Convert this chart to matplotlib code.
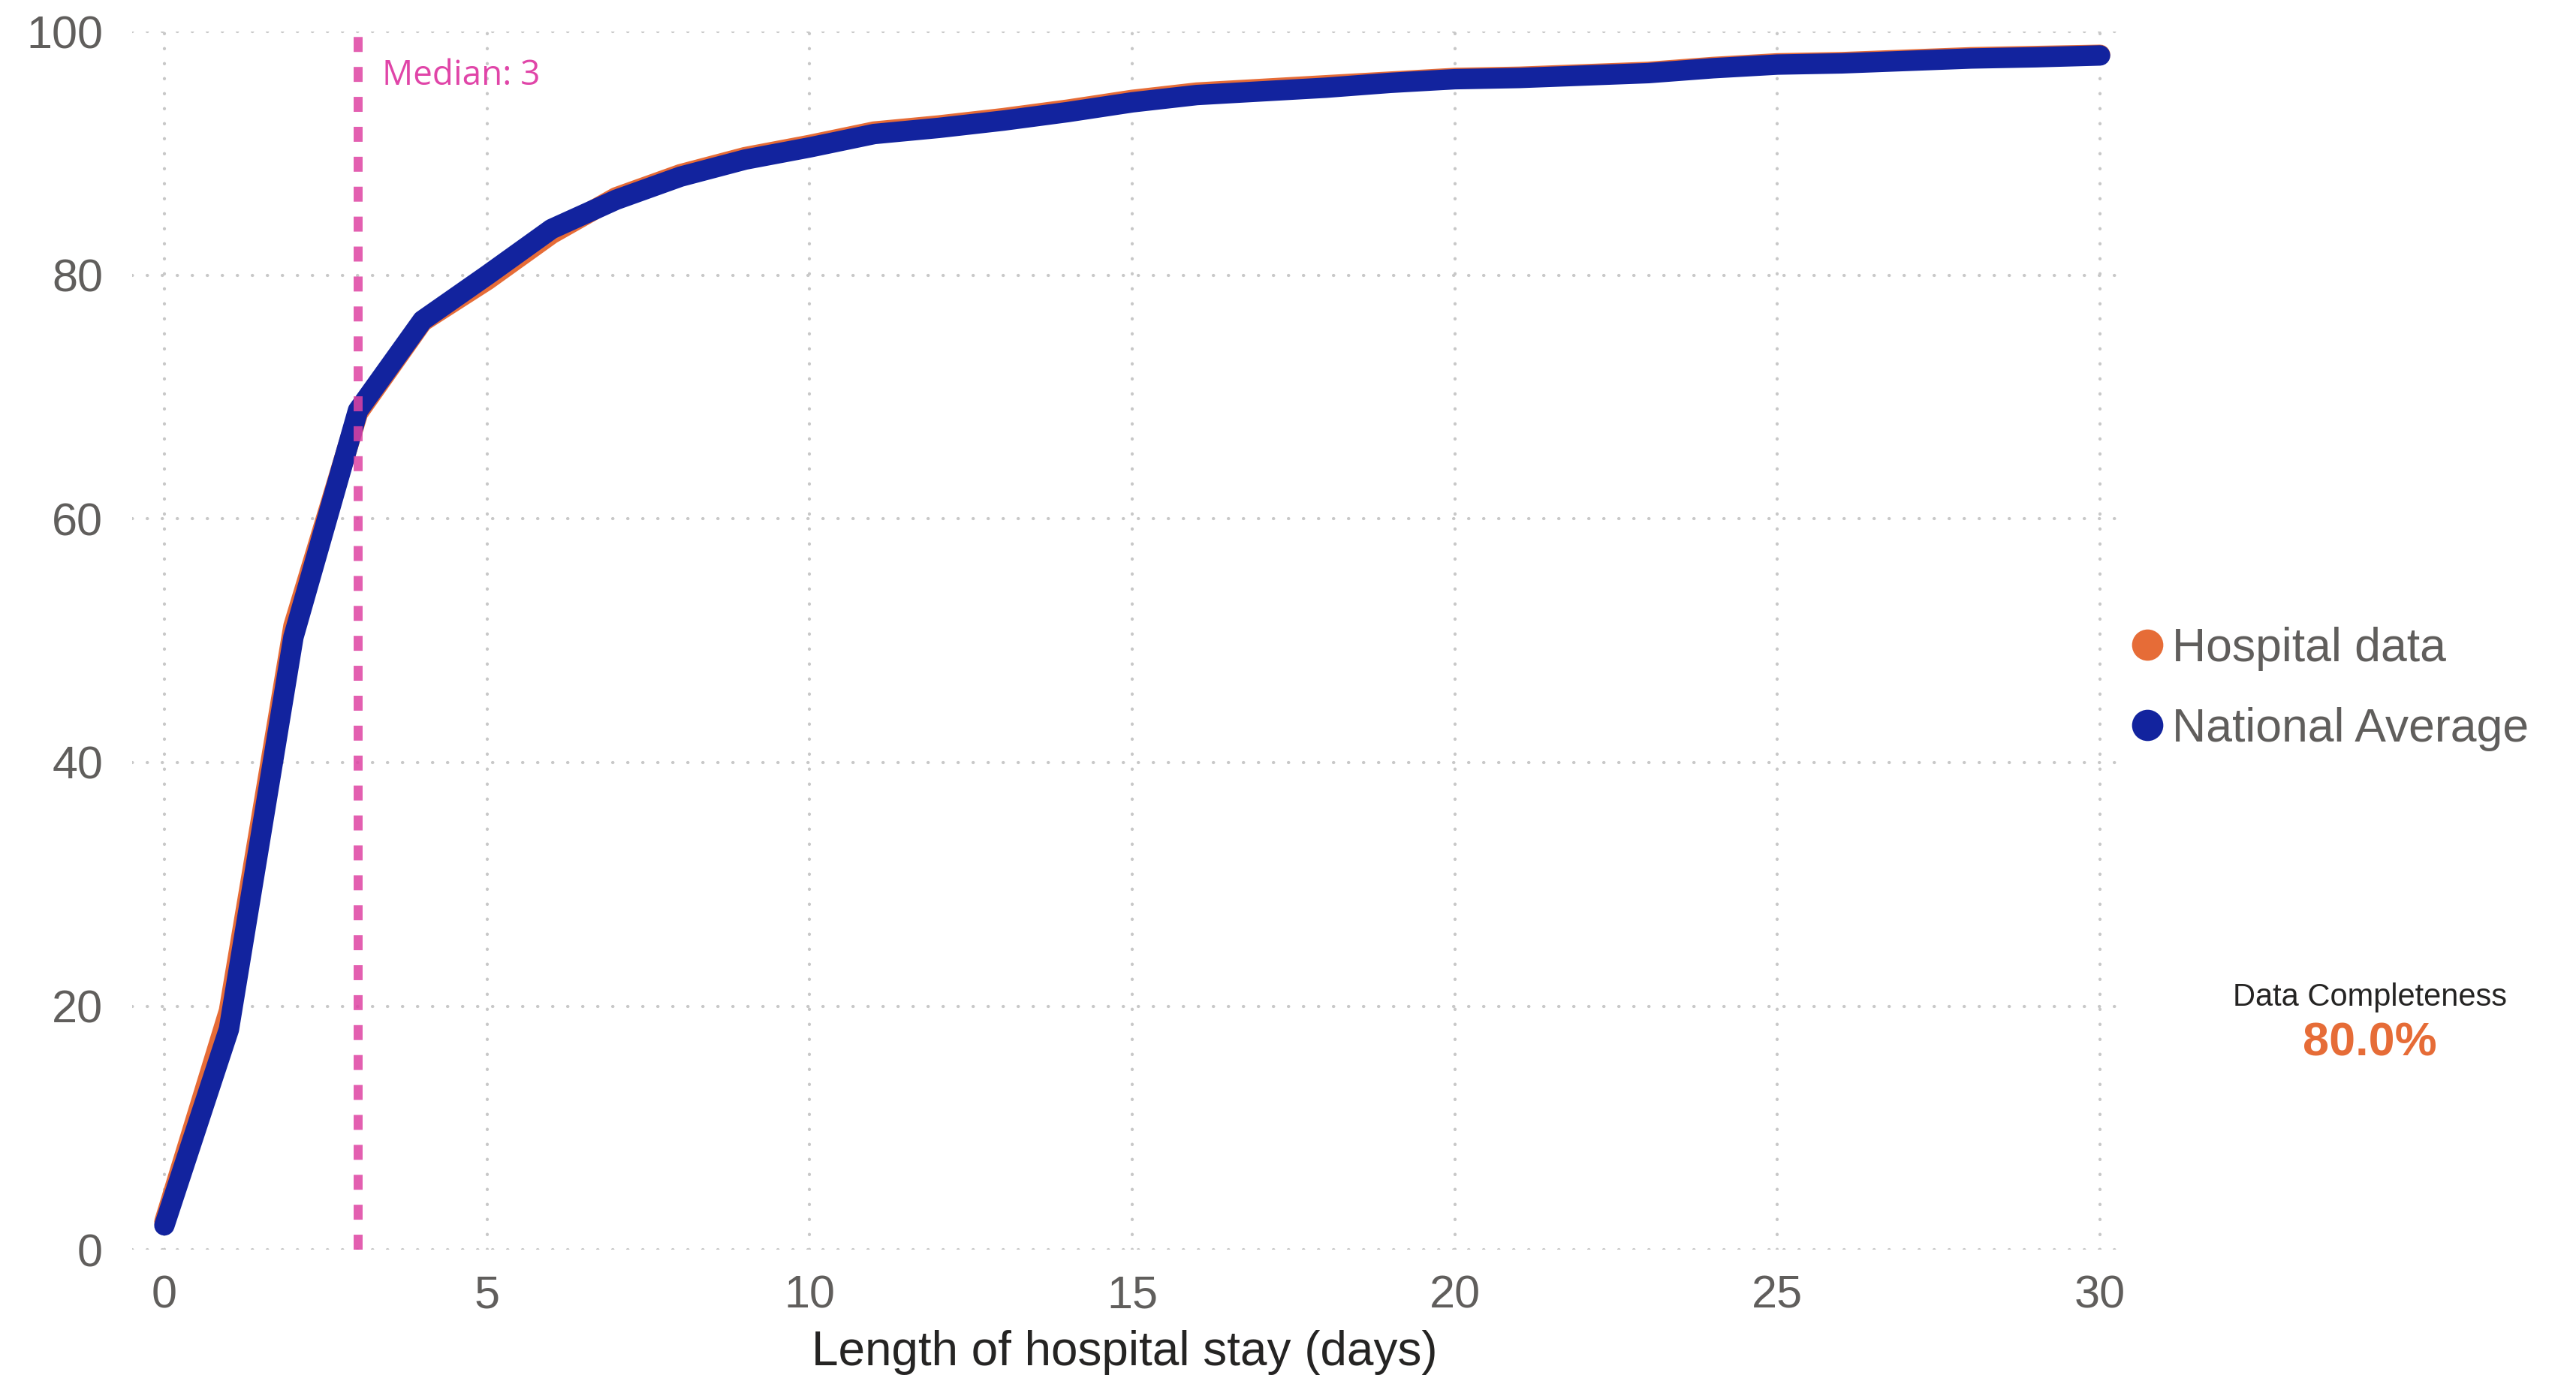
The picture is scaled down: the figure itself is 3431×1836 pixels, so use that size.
import matplotlib
matplotlib.use('Agg')
import matplotlib.pyplot as plt
from matplotlib.lines import Line2D

# ---- data ----
days = list(range(0, 31))
national_avg = [2.0, 18.1, 50.3, 68.9, 76.3, 80.0, 83.8, 86.2, 88.1, 89.5,
                90.5, 91.6, 92.1, 92.7, 93.4, 94.2, 94.8, 95.1, 95.4, 95.8,
                96.1, 96.2, 96.4, 96.6, 97.0, 97.3, 97.4, 97.6, 97.8, 97.9,
                98.05]
hospital = [2.3, 19.6, 51.2, 68.7, 76.2, 79.6, 83.4, 86.4, 88.3, 89.7,
            90.7, 91.8, 92.3, 92.9, 93.6, 94.4, 95.0, 95.3, 95.6, 95.9,
            96.2, 96.3, 96.5, 96.7, 97.1, 97.4, 97.5, 97.7, 97.9, 98.0,
            98.1]
median_days = 3
series_names = ['Hospital data', 'National Average']
completeness_label = 'Data Completeness'
completeness_value = '80.0%'
xticks = [0, 5, 10, 15, 20, 25, 30]
yticks = [0, 20, 40, 60, 80, 100]

ORANGE = '#E66C37'
NAVY = '#12239E'
PINK = '#DE43A3'
TICK_C = '#605E5C'
TEXT_C = '#252423'

plt.rcParams['font.family'] = ['Liberation Sans', 'DejaVu Sans']
plt.rcParams['lines.dash_capstyle'] = 'round'

fig = plt.figure(figsize=(17.155, 9.18), dpi=200)
ax = fig.add_axes([0.0513, 0.0931, 0.8220 - 0.0513, 0.977 - 0.0931])

ax.plot(days, hospital, color=ORANGE, lw=9.8, solid_capstyle='round',
        solid_joinstyle='round', zorder=3)
ax.plot(days, national_avg, color=NAVY, lw=9.8, solid_capstyle='round',
        solid_joinstyle='round', zorder=4)
# median marker
ax.axvline(median_days, color=PINK, lw=4.3, alpha=0.85, linestyle=(0, (1.67, 1.67)),
           dash_capstyle='butt', zorder=5)
ax.text(median_days + 0.37, 96.4, 'Median: %d' % median_days, color='#E045A8',
        fontsize=16.5, family=['Open Sans', 'DejaVu Sans'], va='center', ha='left', zorder=6)

ax.set_xlim(-0.5, 30.27)
ax.set_ylim(0, 100)
ax.set_xticks(xticks)
ax.set_yticks(yticks)
ax.grid(True, color='#C8C8C8', linestyle=(0, (0.1, 4.7)), lw=1.5)
ax.set_axisbelow(True)
for s in ax.spines.values():
    s.set_visible(False)
ax.tick_params(length=0, labelsize=22, colors=TICK_C)
ax.tick_params(axis='x', pad=12)
ax.tick_params(axis='y', pad=14)
ax.set_xlabel('Length of hospital stay (days)', fontsize=23, color=TEXT_C, labelpad=6)

handles = [Line2D([], [], marker='o', linestyle='', color=c, markersize=14)
           for c in (ORANGE, NAVY)]
leg = fig.legend(handles, series_names, loc='center left',
                 bbox_to_anchor=(0.8272, 0.500), frameon=False, fontsize=22.5,
                 handlelength=0.7, handletextpad=0.18, borderpad=0,
                 borderaxespad=0, labelspacing=0.76)
for t in leg.get_texts():
    t.set_color(TICK_C)

fig.text(0.920, 1 - 1329 / 1836, completeness_label, fontsize=15, color=TEXT_C,
         ha='center', va='center')
fig.text(0.920, 1 - 1390 / 1836, completeness_value, fontsize=22.7, color=ORANGE,
         fontweight='bold', ha='center', va='center')

fig.savefig('out.png', dpi=200, facecolor='white')
